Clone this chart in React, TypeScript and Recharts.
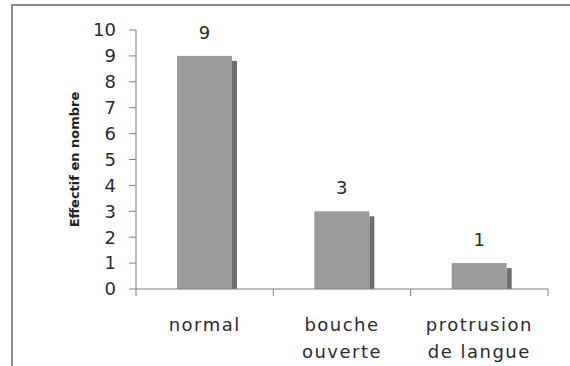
import { BarChart, Bar, XAxis, YAxis, LabelList } from "recharts";

const categories = ["normal", "bouche\nouverte", "protrusion\nde langue"];
const counts = [9, 3, 1];
const yTicks = [0, 1, 2, 3, 4, 5, 6, 7, 8, 9, 10];

const data = categories.map((name, i) => ({ name, count: counts[i] }));

const FONT = "'DejaVu Sans', Verdana, sans-serif";
const AXIS = "#7f7f7f";
const TEXT = "#2b2b2b";

// front face plus a darker strip on the right, like the old Excel shadow
function ShadowBar(props: any) {
  const { x, y, width, height } = props;
  if (!height || height <= 0) return null;
  const depth = 5;
  return (
    <g>
      <rect x={x + width} y={y + depth} width={depth} height={height - depth} fill="#6e6e6e" />
      <rect x={x} y={y} width={width} height={height} fill="#9b9b9b" />
    </g>
  );
}

// category label, plus the tick marks sitting on the band edges
function CategoryTick(props: any) {
  const { x, y, payload, index } = props;
  const half = payload.offset || 0;
  const axisY = y - 7;
  const lines = String(payload.value).split("\n");
  return (
    <g>
      {index === 0 && (
        <line x1={x - half} x2={x - half} y1={axisY} y2={axisY + 7} stroke={AXIS} />
      )}
      <line x1={x + half} x2={x + half} y1={axisY} y2={axisY + 7} stroke={AXIS} />
      <text
        x={x}
        y={y + 35}
        textAnchor="middle"
        fontSize={18}
        letterSpacing={1.5}
        fill={TEXT}
        fontFamily={FONT}
      >
        {lines.map((l, i) => (
          <tspan key={i} x={x} dy={i === 0 ? 0 : 27}>
            {l}
          </tspan>
        ))}
      </text>
    </g>
  );
}

export default function App() {
  return (
    <div
      style={{
        position: "absolute",
        left: 0,
        top: 0,
        width: 570,
        height: 366,
        overflow: "hidden",
        background: "#fff",
      }}
    >
      <div
        style={{
          position: "absolute",
          left: 11,
          top: 4,
          width: 600,
          height: 400,
          border: "2px solid #8a8a8a",
        }}
      />
      <div style={{ position: "absolute", left: 0, top: 0 }}>
        <BarChart
          width={570}
          height={366}
          data={data}
          margin={{ top: 30, right: 22, bottom: 0, left: 76 }}
        >
          <XAxis
            dataKey="name"
            height={77}
            stroke={AXIS}
            tickLine={false}
            tickSize={7}
            tickMargin={0}
            interval={0}
            tick={<CategoryTick />}
          />
          <YAxis
            width={60}
            domain={[0, 10]}
            ticks={yTicks}
            interval={0}
            stroke={AXIS}
            tickSize={7}
            tickMargin={13}
            tick={{ fontSize: 18, fill: TEXT, fontFamily: FONT }}
            label={{
              value: "Effectif en nombre",
              angle: -90,
              position: "insideLeft",
              offset: -2,
              style: {
                textAnchor: "middle",
                fontSize: 13,
                fontWeight: "bold",
                fill: "#222",
                fontFamily: FONT,
              },
            }}
          />
          <Bar dataKey="count" barSize={55} shape={<ShadowBar />} isAnimationActive={false}>
            <LabelList
              dataKey="count"
              position="top"
              offset={17}
              style={{ fontSize: 18, fill: TEXT, fontFamily: FONT }}
            />
          </Bar>
        </BarChart>
      </div>
    </div>
  );
}
